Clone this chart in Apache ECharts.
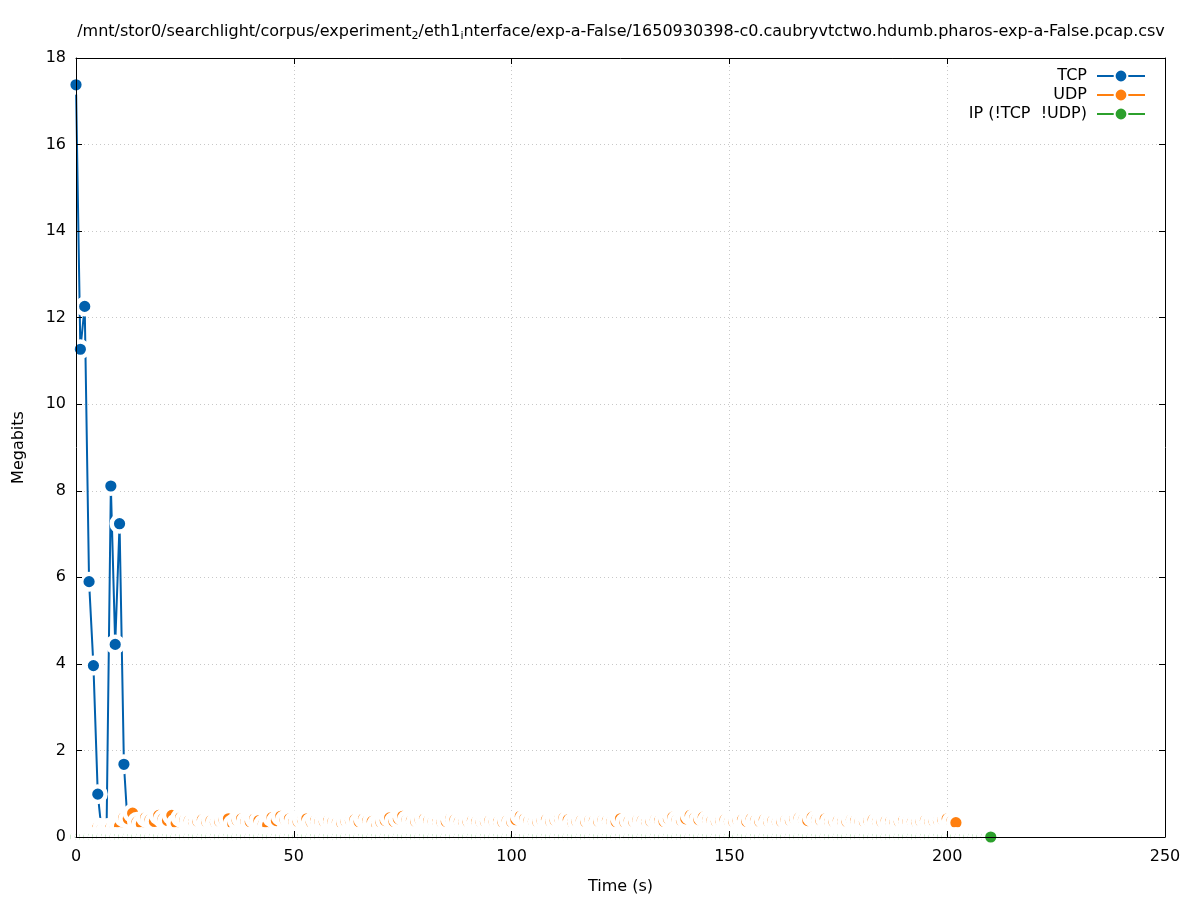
<!DOCTYPE html>
<html>
<head>
<meta charset="utf-8">
<script src="https://cdn.jsdelivr.net/npm/echarts@6/dist/echarts.min.js"></script>
<style>
html,body{margin:0;padding:0;background:#fff;}
#chart{width:1197px;height:900px;}
</style>
</head>
<body>
<div id="chart"></div>
<script>
// ---- data (one-second bins) ----
const seriesNames = ['TCP', 'UDP', 'IP (!TCP  !UDP)'];
const tcpStart = 0;
const tcpValues = [17.38, 11.27, 12.26, 5.90, 3.96, 0.99, 0.03, 0.03, 8.11, 4.45, 7.24, 1.68, 0.05];
const udpStart = 5;
const udpValues = [
  0.22, 0.20, 0.20, 0.22, 0.20, 0.25,
  0.45, 0.42, 0.55, 0.35, 0.30, 0.45, 0.40, 0.36, 0.50, 0.42,
  0.38, 0.50, 0.32, 0.45, 0.40, 0.38, 0.35, 0.36, 0.40, 0.35,
  0.38, 0.34, 0.36, 0.40, 0.42, 0.30, 0.38, 0.42, 0.36, 0.35,
  0.42, 0.38, 0.30, 0.28, 0.45, 0.38, 0.48, 0.40, 0.42, 0.36,
  0.35, 0.40, 0.42, 0.34, 0.38, 0.36, 0.35, 0.38, 0.36, 0.34,
  0.32, 0.36, 0.38, 0.40, 0.35, 0.42, 0.38, 0.36, 0.30, 0.34,
  0.38, 0.44, 0.36, 0.42, 0.48, 0.40, 0.38, 0.36, 0.40, 0.42,
  0.38, 0.36, 0.35, 0.34, 0.36, 0.42, 0.40, 0.36, 0.34, 0.35,
  0.38, 0.36, 0.34, 0.36, 0.38, 0.35, 0.36, 0.34, 0.38, 0.35,
  0.40, 0.48, 0.42, 0.38, 0.36, 0.35, 0.38, 0.40, 0.36, 0.38,
  0.42, 0.44, 0.40, 0.34, 0.36, 0.38, 0.35, 0.40, 0.38, 0.36,
  0.40, 0.38, 0.36, 0.35, 0.42, 0.34, 0.38, 0.36, 0.40, 0.38,
  0.35, 0.36, 0.40, 0.38, 0.36, 0.42, 0.46, 0.40, 0.38, 0.42,
  0.50, 0.44, 0.40, 0.46, 0.40, 0.38, 0.36, 0.38, 0.40, 0.36,
  0.35, 0.38, 0.40, 0.36, 0.42, 0.38, 0.35, 0.40, 0.36, 0.38,
  0.35, 0.36, 0.40, 0.38, 0.42, 0.44, 0.40, 0.38, 0.46, 0.40,
  0.38, 0.42, 0.36, 0.35, 0.38, 0.36, 0.35, 0.40, 0.38, 0.36,
  0.35, 0.38, 0.40, 0.36, 0.35, 0.38, 0.36, 0.34, 0.35, 0.38,
  0.36, 0.35, 0.34, 0.36, 0.38, 0.35, 0.36, 0.38, 0.40, 0.42,
  0.36, 0.33
];
const ipStart = 0;
const ipValues = [
  0,0,0,0,0,0,0,0,0,0, 0,0,0,0,0,0,0,0,0,0, 0,0,0,0,0,0,0,0,0,0,
  0,0,0,0,0,0,0,0,0,0, 0,0,0,0,0,0,0,0,0,0, 0,0,0,0,0,0,0,0,0,0,
  0,0,0,0,0,0,0,0,0,0, 0,0,0,0,0,0,0,0,0,0, 0,0,0,0,0,0,0,0,0,0,
  0,0,0,0,0,0,0,0,0,0, 0,0,0,0,0,0,0,0,0,0, 0,0,0,0,0,0,0,0,0,0,
  0,0,0,0,0,0,0,0,0,0, 0,0,0,0,0,0,0,0,0,0, 0,0,0,0,0,0,0,0,0,0,
  0,0,0,0,0,0,0,0,0,0, 0,0,0,0,0,0,0,0,0,0, 0,0,0,0,0,0,0,0,0,0,
  0,0,0,0,0,0,0,0,0,0, 0,0,0,0,0,0,0,0,0,0, 0,0,0,0,0,0,0,0,0,0,
  0
];
const xTicks = [0, 50, 100, 150, 200, 250];
const yTicks = [0, 2, 4, 6, 8, 10, 12, 14, 16, 18];

const colors = ['#0060ad', '#ff7f0e', '#2ca02c'];
const FONT = 'DejaVu Sans';

function pairs(start, vals) { return vals.map((v, i) => [start + i, v]); }

const chart = echarts.init(document.getElementById('chart'), null, {renderer: 'canvas'});

const gridDef = {left: 76, right: 32, top: 58, bottom: 61};
const xMin = xTicks[0], xMax = xTicks[xTicks.length - 1], xInt = xTicks[1] - xTicks[0];
const yMin = yTicks[0], yMax = yTicks[yTicks.length - 1], yInt = yTicks[1] - yTicks[0];

function mkSeries(idx, data) {
  return {
    name: seriesNames[idx], type: 'line', data: data,
    xAxisIndex: 0, yAxisIndex: 0,
    symbol: 'circle', symbolSize: 15.6, showSymbol: true,
    lineStyle: {color: colors[idx], width: 2},
    itemStyle: {color: colors[idx], borderColor: '#ffffff', borderWidth: 4.4},
    emphasis: {disabled: true},
    animation: false, clip: false
  };
}

const option = {
  backgroundColor: '#ffffff',
  animation: false,
  title: {
    text: '/mnt/stor0/searchlight/corpus/experiment{s|2}/eth1{s|i}nterface/exp-a-False/1650930398-c0.caubryvtctwo.hdumb.pharos-exp-a-False.pcap.csv',
    left: 616, top: 16, textAlign: 'center',
    textStyle: {
      fontFamily: FONT, fontSize: 16, fontWeight: 'normal', color: '#000',
      rich: {s: {fontFamily: FONT, fontSize: 11, color: '#000', padding: [10, 0, 0, 0]}}
    }
  },
  legend: {
    orient: 'vertical', right: 46, top: 63, align: 'right',
    itemWidth: 48, itemHeight: 16, itemGap: 3,
    textStyle: {fontFamily: FONT, fontSize: 16, color: '#000', width: 140, align: 'right',
                lineHeight: 14, padding: [0, 5, 0, 0]},
    data: seriesNames
  },
  grid: gridDef,
  xAxis: [
    { // main bottom axis with labels
      type: 'value', position: 'bottom', min: xMin, max: xMax, interval: xInt, z: 10,
      name: 'Time (s)', nameLocation: 'middle', nameGap: 42,
      nameTextStyle: {fontFamily: FONT, fontSize: 16, color: '#000'},
      axisLine: {show: true, onZero: false, lineStyle: {color: '#000', width: 1}},
      axisTick: {show: true, inside: true, length: 6, lineStyle: {color: '#000'}},
      axisLabel: {fontFamily: FONT, fontSize: 16, color: '#000', margin: 12},
      splitLine: {show: false}
    },
    { // mirror top
      type: 'value', position: 'top', min: xMin, max: xMax, interval: xInt, z: 10,
      axisLine: {show: true, onZero: false, lineStyle: {color: '#000', width: 1}},
      axisTick: {show: true, inside: true, length: 6, lineStyle: {color: '#000'}},
      axisLabel: {show: false}, splitLine: {show: false}
    },
    { // grid lines (behind)
      type: 'value', position: 'bottom', min: xMin, max: xMax, interval: xInt, z: 0,
      axisLine: {show: false}, axisTick: {show: false}, axisLabel: {show: false},
      splitLine: {show: true, lineStyle: {color: '#c8c8c8', width: 1, type: [1, 3]}}
    }
  ],
  yAxis: [
    {
      type: 'value', position: 'left', min: yMin, max: yMax, interval: yInt, z: 10,
      name: 'Megabits', nameLocation: 'middle', nameGap: 49, nameRotate: 90,
      nameTextStyle: {fontFamily: FONT, fontSize: 16, color: '#000'},
      axisLine: {show: true, onZero: false, lineStyle: {color: '#000', width: 1}},
      axisTick: {show: true, inside: true, length: 6, lineStyle: {color: '#000'}},
      axisLabel: {fontFamily: FONT, fontSize: 16, color: '#000', margin: 10},
      splitLine: {show: false}
    },
    {
      type: 'value', position: 'right', min: yMin, max: yMax, interval: yInt, z: 10,
      axisLine: {show: true, onZero: false, lineStyle: {color: '#000', width: 1}},
      axisTick: {show: true, inside: true, length: 6, lineStyle: {color: '#000'}},
      axisLabel: {show: false}, splitLine: {show: false}
    },
    {
      type: 'value', position: 'left', min: yMin, max: yMax, interval: yInt, z: 0,
      axisLine: {show: false}, axisTick: {show: false}, axisLabel: {show: false},
      splitLine: {show: true, lineStyle: {color: '#c8c8c8', width: 1, type: [1, 3]}}
    }
  ],
  series: [
    mkSeries(0, pairs(tcpStart, tcpValues)),
    mkSeries(1, pairs(udpStart, udpValues)),
    mkSeries(2, pairs(ipStart, ipValues))
  ]
};
chart.setOption(option);
</script>
</body>
</html>
